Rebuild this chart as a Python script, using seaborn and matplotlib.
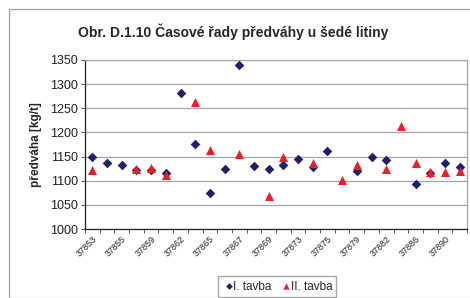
import numpy as np
import pandas as pd
import matplotlib
matplotlib.use("Agg")
import matplotlib.pyplot as plt
import seaborn as sns

categories = [37853, 37854, 37855, 37858, 37859, 37861, 37862, 37863, 37865, 37866,
              37867, 37868, 37869, 37872, 37873, 37874, 37875, 37877, 37879, 37880,
              37882, 37884, 37886, 37888, 37890, 37891]
tavba1 = [1149, 1136, 1132, 1122, 1123, 1115, 1282, 1177, 1075, 1124,
          1339, 1130, 1124, 1132, 1144, 1128, 1162, np.nan, 1121, 1150,
          1142, np.nan, 1093, 1115, 1137, 1128]
tavba2 = [1122, np.nan, np.nan, 1125, 1127, 1112, np.nan, 1262, 1164, np.nan,
          1155, np.nan, 1068, 1149, np.nan, 1137, np.nan, 1101, 1133, np.nan,
          1125, 1213, 1137, 1118, 1118, 1121]
series_names = ["I. tavba", "II. tavba"]
y_ticks = [1000, 1050, 1100, 1150, 1200, 1250, 1300, 1350]

sns.set_theme(style="white")
plt.rcParams['font.family'] = ['Liberation Sans', 'DejaVu Sans']

n = len(categories)
pos = np.arange(n) + 0.5
df1 = pd.DataFrame({"pos": pos, "val": tavba1, "series": series_names[0]})
df2 = pd.DataFrame({"pos": pos, "val": tavba2, "series": series_names[1]})

fig = plt.figure(figsize=(4.70, 2.98), dpi=100)
ax = fig.add_axes([85 / 470, 1 - 229 / 298, (467 - 85) / 470, (229 - 60) / 298])

sns.scatterplot(data=df1, x="pos", y="val", marker="D", color="#1f1f6e",
                s=24, linewidth=0, ax=ax, label=series_names[0], zorder=3)
sns.scatterplot(data=df2, x="pos", y="val", marker="^", color="#ee1c25",
                s=42, linewidth=0, ax=ax, label=series_names[1], zorder=3)

ax.set_xlim(0, n)
ax.set_ylim(1000, 1350)
ax.set_yticks(y_ticks)
ax.set_yticklabels([str(v) for v in y_ticks], fontsize=9, color="#202020")
ax.yaxis.grid(True, color="#a6a6a6", linewidth=0.9)
ax.set_axisbelow(True)

ax.set_xticks(pos[::2])
ax.set_xticklabels([str(c) for c in categories[::2]], rotation=45, ha="right",
                   rotation_mode="anchor", fontsize=6.5, color="#202020")
ax.set_xticks(np.arange(n + 1), minor=True)
ax.tick_params(axis="x", which="major", length=0, pad=4)
ax.tick_params(axis="x", which="minor", length=3, width=0.6, color="#404040", direction="out", bottom=True)
ax.tick_params(axis="y", length=3, width=0.6, color="#404040", direction="out", left=True, pad=2)

for side in ["top", "right"]:
    ax.spines[side].set_color("#a6a6a6")
    ax.spines[side].set_linewidth(0.9)
for side in ["left", "bottom"]:
    ax.spines[side].set_color("#202020")
    ax.spines[side].set_linewidth(0.9)

ax.set_xlabel("")
ax.set_ylabel("předváha [kg/t]", fontsize=8.5, fontweight="bold", labelpad=6)

handles, labels = ax.get_legend_handles_labels()
ax.legend(handles, labels, loc="center", bbox_to_anchor=(277 / 470, 1 - 286.5 / 298),
          bbox_transform=fig.transFigure, ncol=2, fontsize=8.5, frameon=True,
          fancybox=False, edgecolor="#909090", handletextpad=-0.2, columnspacing=0.6,
          borderpad=0.35, markerscale=0.7, handlelength=1.2)

fig.text(233 / 470, 1 - 32 / 298, "Obr. D.1.10 Časové řady předváhy u šedé litiny",
         ha="center", va="center", fontsize=10, fontweight="bold")

fig.patches.append(matplotlib.patches.Rectangle((9 / 470, 0.0), 1.0, 1 - 9 / 298,
                   transform=fig.transFigure, fill=False, edgecolor="#a0a0a0", linewidth=0.9))

fig.savefig("out.png", dpi=100)
